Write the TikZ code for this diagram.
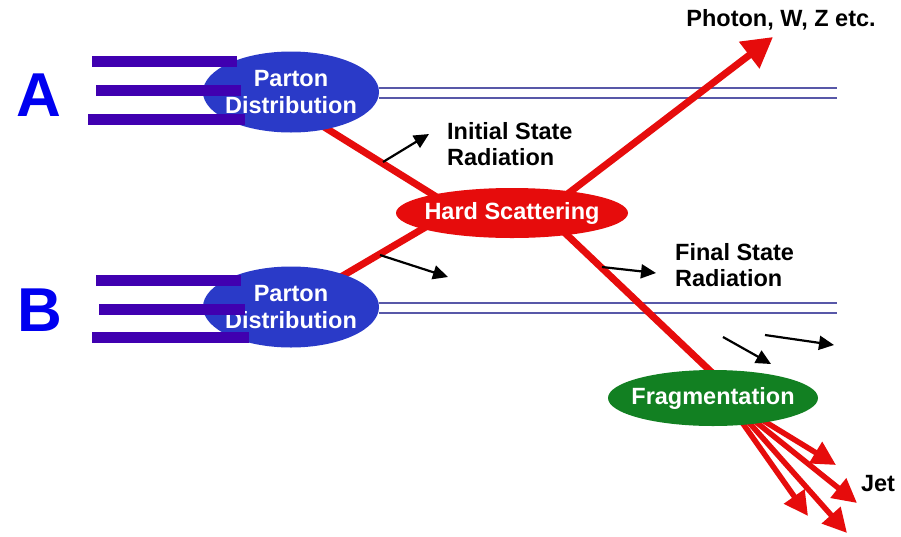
\documentclass[tikz,border=0pt]{standalone}
\usepackage{fontspec}
\setmainfont{Liberation Sans}
\usepackage{xcolor}
\usepackage{tikz}
\usetikzlibrary{arrows.meta}
\usetikzlibrary{shapes.geometric}
\usetikzlibrary{backgrounds}
\definecolor{partonblue}{RGB}{42,58,200}
\definecolor{barpurple}{RGB}{64,0,176}
\definecolor{beamblue}{RGB}{88,88,168}
\definecolor{hardred}{RGB}{230,12,12}
\definecolor{fraggreen}{RGB}{18,128,34}
\definecolor{letterblue}{RGB}{0,0,240}
\tikzset{
    txt/.style = {align=center, inner sep=0pt, font=\fontsize{23.5}{26.5}\selectfont\bfseries},
    blob/.style = {txt, ellipse, white, inner xsep=-14pt},
    parton/.style = {blob, fill=partonblue, minimum width=176pt, minimum height=81pt},
    hardnode/.style = {blob, fill=hardred, minimum width=232pt, minimum height=50pt},
    fragnode/.style = {blob, fill=fraggreen, minimum width=210pt, minimum height=56pt},
    lbl/.style = {txt, align=left, black, anchor=west},
    beamname/.style = {inner sep=0pt, letterblue, font=\fontsize{62}{62}\selectfont\bfseries},
    bar/.style = {barpurple, line width=11pt},
    beam/.style = {beamblue, line width=2.8pt},
    redline/.style = {hardred, line width=7pt},
    photonarrow/.style = {redline, -{Triangle[length=30pt,width=32pt]}},
    jetarrow/.style = {hardred, line width=5.5pt, -{Triangle[length=24pt,width=24pt]}},
    radarrow/.style = {black, line width=2.2pt, -{Triangle[length=15pt,width=14pt]}}
}

\begin{document}
\begin{tikzpicture}[x=1pt, y=-1pt]
    \useasboundingbox (0,0) rectangle (901,536);
    % blobs
    \node [parton] (partonA) at (291,92) {Parton\\Distribution};
    \node [parton] (partonB) at (291,307) {Parton\\Distribution};
    \node [hardnode] (hard) at (512,213) {Hard Scattering};
    \node [fragnode] (frag) at (713,398) {Fragmentation};
    % labels
    \node [beamname] (nameA) at (39,95) {A};
    \node [beamname] (nameB) at (40,310) {B};
    \node [txt] (photon) at (781,20) {Photon, W, Z etc.};
    \node [lbl] (isr) at (447,144) {Initial State\\Radiation};
    \node [lbl] (fsr) at (675,265) {Final State\\Radiation};
    \node [txt] (jet) at (878,484) {Jet};
    \coordinate (endA) at (837,92);
    \coordinate (endB) at (837,307);
    \coordinate (photontip) at (773,37);
    % lines behind the blobs
    \begin{pgfonlayer}{background}
        \fill [white] (0,0) rectangle (901,536);
        \draw [beam] ([yshift=4pt]partonA.east) -- ([yshift=4pt]endA);
        \draw [beam] ([yshift=-6pt]partonA.east) -- ([yshift=-6pt]endA);
        \draw [beam] ([yshift=4pt]partonB.east) -- ([yshift=4pt]endB);
        \draw [beam] ([yshift=-6pt]partonB.east) -- ([yshift=-6pt]endB);
        \draw [redline] ([shift={(9,20)}]partonA.center) -- ([shift={(-32,11)}]hard.center);
        \draw [redline] ([shift={(19,-12)}]partonB.center) -- ([shift={(-42,-12)}]hard.center);
        \draw [photonarrow] ([shift={(28,2)}]hard.center) -- (photontip);
        \draw [redline] ([shift={(33,1)}]hard.center) -- ([shift={(12,-13)}]frag.center);
        \foreach \dx/\tx/\ty in {46/836/465, 38/857/503, 26/808/516, 32/847/533}
            \draw [jetarrow] ([shift={(\dx,20)}]frag.center) -- (\tx,\ty);
    \end{pgfonlayer}
    % incoming partons
    \foreach \y/\xa/\xb in {61/92/237, 90/96/241, 119/88/245, 280/96/241, 309/99/245, 337/92/249}
        \draw [bar] (\xa,\y) -- (\xb,\y);
    % radiation
    \draw [radarrow] (383,162) -- (429,134);
    \draw [radarrow] (380,255) -- (448,277);
    \draw [radarrow] (602,267) -- (656,273);
    \draw [radarrow] (723,337) -- (771,364);
    \draw [radarrow] (765,335) -- (834,345);
\end{tikzpicture}
\end{document}
